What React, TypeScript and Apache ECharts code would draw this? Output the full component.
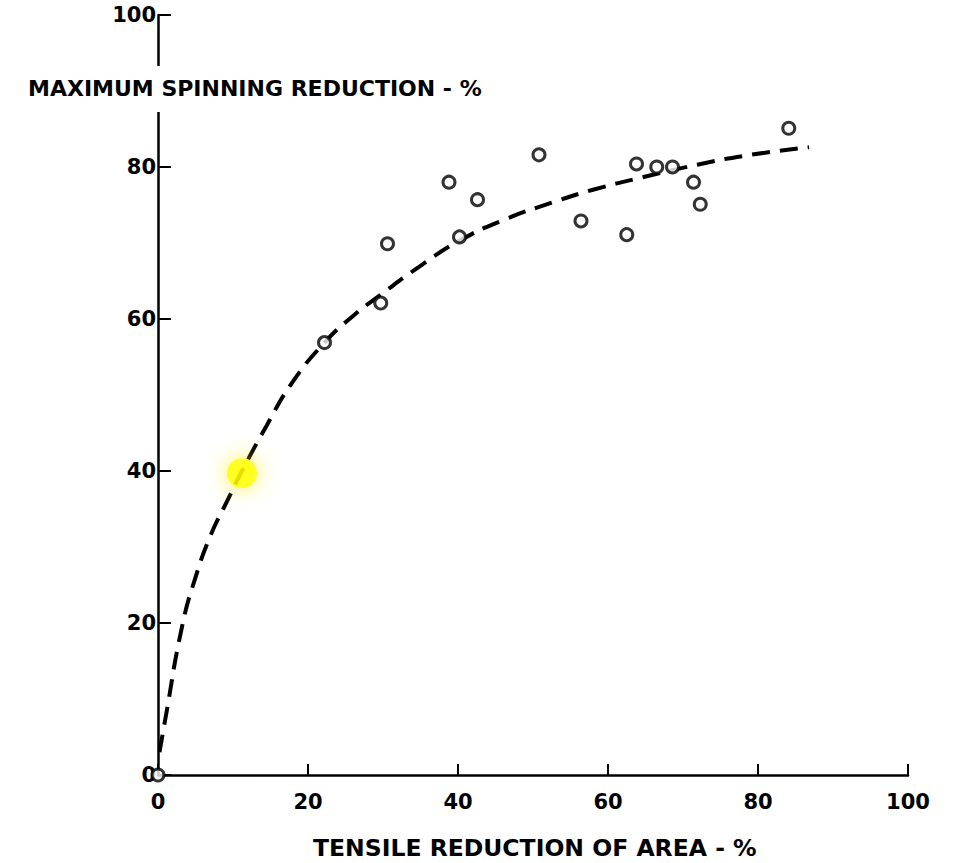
import React, { useEffect, useRef } from "react";
import * as echarts from "echarts";

const xTicks = [0, 20, 40, 60, 80, 100];
const yTicks = [0, 20, 40, 60, 80, 100];

const xTitle = "TENSILE REDUCTION OF AREA - %";
const yTitle = "MAXIMUM SPINNING REDUCTION - %";

// measured points [tensile RA %, max spinning reduction %]
const measured: number[][] = [
  [0, 0],
  [22.2, 56.9],
  [29.7, 62.1],
  [30.6, 69.9],
  [38.8, 78.0],
  [40.2, 70.8],
  [42.6, 75.7],
  [50.8, 81.6],
  [56.4, 72.9],
  [62.5, 71.1],
  [63.8, 80.4],
  [66.5, 80.0],
  [68.6, 80.0],
  [71.4, 78.0],
  [72.3, 75.1],
  [84.1, 85.1],
];

// dashed trend curve
const trend: number[][] = [
  [0.2, 3],
  [1, 7.5],
  [3.2, 19.5],
  [5, 26],
  [7, 31.5],
  [9.2, 36],
  [11.2, 40],
  [14.5, 46],
  [17.8, 51.5],
  [22.2, 56.9],
  [26, 60.4],
  [29.7, 63.2],
  [35, 67],
  [40.2, 70.3],
  [46, 73],
  [52.8, 75.4],
  [58, 77],
  [64.4, 78.6],
  [71.9, 80.3],
  [79, 81.6],
  [86.8, 82.6],
];

// yellow highlight marker
const highlight: number[][] = [[11.2, 39.7]];

const FONT = "DejaVu Sans";

export default function App() {
  const ref = useRef<HTMLDivElement>(null);
  useEffect(() => {
    document.body.style.margin = "0";
    const chart = echarts.init(ref.current!, undefined, { renderer: "svg" });
    chart.setOption({
      animation: false,
      backgroundColor: "#ffffff",
      grid: { left: 158, right: 45, top: 15, bottom: 88 },
      xAxis: {
        type: "value",
        min: xTicks[0],
        max: xTicks[xTicks.length - 1],
        interval: 20,
        splitLine: { show: false },
        axisLine: { show: true, lineStyle: { color: "#000", width: 2.5 } },
        axisTick: { show: true, inside: true, length: 11, lineStyle: { color: "#000", width: 2 } },
        axisLabel: {
          margin: 16,
          color: "#000",
          fontFamily: FONT,
          fontSize: 21,
          fontWeight: "bold",
        },
      },
      yAxis: {
        type: "value",
        min: yTicks[0],
        max: yTicks[yTicks.length - 1],
        interval: 20,
        splitLine: { show: false },
        axisLine: { show: true, lineStyle: { color: "#000", width: 2.5 } },
        axisTick: { show: true, inside: true, length: 13, lineStyle: { color: "#000", width: 2 } },
        axisLabel: {
          margin: 2,
          color: "#000",
          fontFamily: FONT,
          fontSize: 21,
          fontWeight: "bold",
        },
      },
      graphic: [
        {
          type: "text",
          z: 100,
          left: 24,
          top: 66,
          style: {
            text: yTitle,
            font: `bold 22px "${FONT}"`,
            fill: "#000",
            backgroundColor: "#ffffff",
            padding: [11, 4, 13, 4],
          },
        },
        {
          type: "text",
          z: 100,
          left: 313,
          top: 836,
          style: {
            text: xTitle,
            font: `bold 23.5px "${FONT}"`,
            fill: "#000",
          },
        },
      ],
      series: [
        {
          type: "line",
          data: trend,
          smooth: true,
          symbol: "none",
          silent: true,
          z: 2,
          lineStyle: { color: "#000", width: 4, type: [18, 10], cap: "butt" },
        },
        {
          type: "scatter",
          data: measured,
          symbol: "circle",
          symbolSize: 12,
          silent: true,
          z: 3,
          itemStyle: { color: "#ffffff", borderColor: "#000", borderWidth: 3 },
        },
        {
          type: "scatter",
          data: highlight,
          symbol: "circle",
          symbolSize: 30,
          silent: true,
          z: 4,
          itemStyle: {
            color: "#ffff00",
            shadowBlur: 22,
            shadowColor: "rgba(255, 236, 0, 0.9)",
          },
        },
      ],
    });
    return () => chart.dispose();
  }, []);
  return <div ref={ref} style={{ width: 953, height: 863 }} />;
}
